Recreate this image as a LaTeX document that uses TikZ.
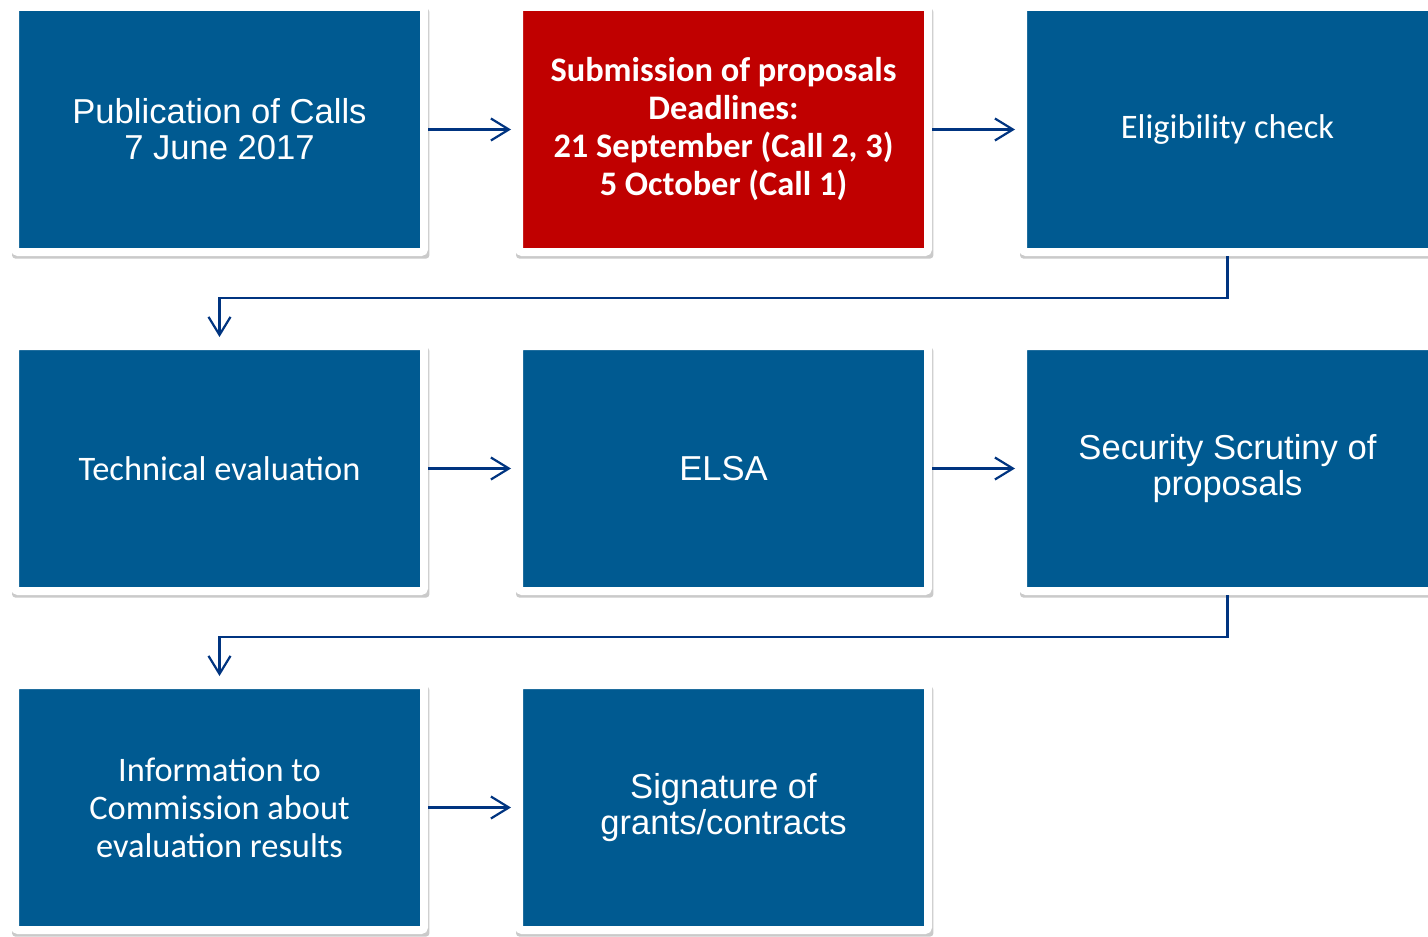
\documentclass[tikz,border=0pt]{standalone}
\usepackage{fontspec}
\setmainfont{Liberation Sans}
\newfontfamily\calibrifont{Carlito}
\usetikzlibrary{arrows.meta, positioning, shadows}
\definecolor{boxblue}{RGB}{0,90,145}
\definecolor{boxred}{RGB}{192,0,0}
\definecolor{linkblue}{RGB}{0,52,128}

\begin{document}
\begin{tikzpicture}[
  x=0.5pt, y=-0.5pt,
  node distance=43pt and 43.5pt,
  stepbox/.style={rectangle, rounded corners=1.5pt, draw=white, line width=4pt,
                  fill=boxblue, text=white, minimum width=204.5pt,
                  minimum height=122.5pt, inner sep=0pt, align=center,
                  font=\fontsize{17.3}{18}\selectfont,
                  drop shadow={shadow xshift=0.6pt, shadow yshift=-2pt,
                               shadow scale=1.02, opacity=0.35, fill=black!60}},
  calbox/.style={stepbox, font=\calibrifont\fontsize{17.2}{19}\selectfont},
  arr/.style={-{Straight Barb[length=9pt, width=11pt]}, draw=linkblue,
              line width=1.1pt, shorten >=2pt},
]
\useasboundingbox (0,0) rectangle (1428,936);
% first row
\node (pub)   [stepbox] at (219.5,129.5) {Publication of Calls\\7 June 2017};
\node (sub)   [calbox, fill=boxred, right=of pub,
               font=\calibrifont\bfseries\fontsize{17.2}{19}\selectfont]
  {Submission of proposals\\Deadlines:\\21 September (Call 2, 3)\\5 October (Call 1)};
\node (elig)  [calbox, right=of sub] {Eligibility check};
% second row
\node (tech)  [calbox, below=of pub] {Technical evaluation};
\node (elsa)  [stepbox, right=of tech] {ELSA};
\node (scrut) [stepbox, right=of elsa] {Security Scrutiny of\\proposals};
% third row
\node (info)  [calbox, below=of tech] {Information to\\Commission about\\evaluation results};
\node (sign)  [stepbox, right=of info] {Signature of\\grants/contracts};
% edges
\draw [arr] (pub)  -- (sub);
\draw [arr] (sub)  -- (elig);
\draw [arr, shorten >=2.5pt] (elig.south) -- ++(0,-21pt) -| (tech.north);
\draw [arr] (tech) -- (elsa);
\draw [arr] (elsa) -- (scrut);
\draw [arr, shorten >=2.5pt] (scrut.south) -- ++(0,-21pt) -| (info.north);
\draw [arr] (info) -- (sign);
\end{tikzpicture}
\end{document}
